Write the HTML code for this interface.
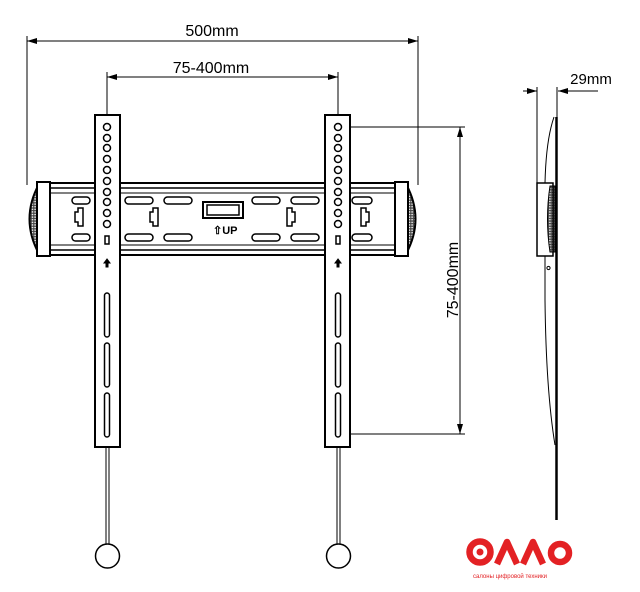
<!DOCTYPE html>
<html><head><meta charset="utf-8"><style>html,body{margin:0;padding:0;background:#fff}svg{display:block}</style></head>
<body>
<svg width="640" height="592" viewBox="0 0 640 592" xmlns="http://www.w3.org/2000/svg" font-family="Liberation Sans, sans-serif">
<defs>
<marker id="a" viewBox="0 0 10 6" refX="10" refY="3" markerWidth="10" markerHeight="6" orient="auto-start-reverse" markerUnits="userSpaceOnUse"><path d="M0,0 L10,3 L0,6z" fill="#000"/></marker>
<pattern id="dots" width="2.6" height="2.6" patternUnits="userSpaceOnUse"><rect width="2.6" height="2.6" fill="#444"/><circle cx="1.3" cy="1.3" r="0.8" fill="#fff"/></pattern>
</defs>
<g stroke="#000" fill="none" stroke-width="1">
<line x1="27" y1="41" x2="418" y2="41" marker-start="url(#a)" marker-end="url(#a)"/>
<line x1="27" y1="36" x2="27" y2="185"/><line x1="418" y1="36" x2="418" y2="185"/>
<line x1="107" y1="77" x2="338" y2="77" marker-start="url(#a)" marker-end="url(#a)"/>
<line x1="107" y1="72" x2="107" y2="122"/><line x1="338" y1="72" x2="338" y2="122"/>
<line x1="460" y1="127" x2="460" y2="434" marker-start="url(#a)" marker-end="url(#a)"/>
<line x1="341" y1="127" x2="465" y2="127"/><line x1="341" y1="434" x2="465" y2="434"/>
<rect x="45" y="183" width="355" height="72" fill="#fff" stroke-width="2"/>
<line x1="45" y1="188" x2="400" y2="188" stroke-width="1.5"/>
<line x1="45" y1="193" x2="400" y2="193"/>
<line x1="45" y1="245" x2="400" y2="245"/>
<line x1="45" y1="250" x2="400" y2="250" stroke-width="1.5"/>
<g stroke-width="1.5">
<rect x="72" y="197" width="18" height="7" rx="3.5"/><rect x="125" y="197" width="28" height="7" rx="3.5"/><rect x="164" y="197" width="28" height="7" rx="3.5"/>
<rect x="252" y="197" width="28" height="7" rx="3.5"/><rect x="291" y="197" width="28" height="7" rx="3.5"/><rect x="352" y="197" width="20" height="7" rx="3.5"/>
<rect x="72" y="234" width="18" height="7" rx="3.5"/><rect x="125" y="234" width="28" height="7" rx="3.5"/><rect x="164" y="234" width="28" height="7" rx="3.5"/>
<rect x="252" y="234" width="28" height="7" rx="3.5"/><rect x="291" y="234" width="28" height="7" rx="3.5"/><rect x="352" y="234" width="20" height="7" rx="3.5"/>
<path d="M78,208 h5 v18 h-5 v-4 h-3 v-10 h3z"/><path d="M153,208 h5 v18 h-5 v-4 h-3 v-10 h3z"/>
<path d="M292,208 h-5 v18 h5 v-4 h3 v-10 h-3z"/><path d="M366,208 h-5 v18 h5 v-4 h3 v-10 h-3z"/>
</g>
<rect x="203" y="202" width="40" height="16" stroke-width="2"/>
<rect x="207" y="205" width="32" height="10" stroke-width="1.5"/>
<path d="M39,184 Q20,219 39,254 Z" fill="url(#dots)" stroke-width="2"/>
<rect x="37" y="182" width="13" height="74" fill="#fff" stroke-width="2"/>
<path d="M406,184 Q425,219 406,254 Z" fill="url(#dots)" stroke-width="2"/>
<rect x="395" y="182" width="13" height="74" fill="#fff" stroke-width="2"/>
<rect x="95" y="115" width="25" height="332" fill="#fff" stroke-width="2"/>
<rect x="325" y="115" width="25" height="332" fill="#fff" stroke-width="2"/>
<g stroke-width="1.5">
<circle cx="107" cy="127" r="3.5"/><circle cx="107" cy="138" r="3.5"/><circle cx="107" cy="148" r="3.5"/><circle cx="107" cy="159" r="3.5"/><circle cx="107" cy="170" r="3.5"/><circle cx="107" cy="181" r="3.5"/><circle cx="107" cy="192" r="3.5"/><circle cx="107" cy="202" r="3.5"/><circle cx="107" cy="213" r="3.5"/><circle cx="107" cy="224" r="3.5"/>
<circle cx="338" cy="127" r="3.5"/><circle cx="338" cy="138" r="3.5"/><circle cx="338" cy="148" r="3.5"/><circle cx="338" cy="159" r="3.5"/><circle cx="338" cy="170" r="3.5"/><circle cx="338" cy="181" r="3.5"/><circle cx="338" cy="192" r="3.5"/><circle cx="338" cy="202" r="3.5"/><circle cx="338" cy="213" r="3.5"/><circle cx="338" cy="224" r="3.5"/>
<rect x="105" y="236" width="4" height="8"/><rect x="336" y="236" width="4" height="8"/>
<rect x="104.5" y="293" width="5" height="44" rx="2.5"/><rect x="104.5" y="343" width="5" height="44" rx="2.5"/><rect x="104.5" y="393" width="5" height="44" rx="2.5"/>
<rect x="335.5" y="293" width="5" height="44" rx="2.5"/><rect x="335.5" y="343" width="5" height="44" rx="2.5"/><rect x="335.5" y="393" width="5" height="44" rx="2.5"/>
</g>
<path d="M107,259 l-3,4 h2 v4 h2 v-4 h2z" fill="#000"/><path d="M338,259 l-3,4 h2 v4 h2 v-4 h2z" fill="#000"/>
<line x1="106" y1="447" x2="106" y2="545"/><line x1="109" y1="447" x2="109" y2="545"/>
<line x1="337" y1="447" x2="337" y2="545"/><line x1="340" y1="447" x2="340" y2="545"/>
<circle cx="107.5" cy="556" r="12" fill="#fff" stroke-width="1.5"/>
<circle cx="338.5" cy="556" r="12" fill="#fff" stroke-width="1.5"/>
<line x1="523" y1="91" x2="537" y2="91" marker-end="url(#a)"/>
<line x1="598" y1="91" x2="558" y2="91" marker-end="url(#a)"/>
<line x1="537" y1="87" x2="537" y2="256"/>
<line x1="557" y1="87" x2="557" y2="117"/>
<line x1="556.5" y1="117" x2="556.5" y2="520" stroke-width="2.5"/>
<path d="M554,117 Q546,140 545,183"/>
<path d="M550,186 Q545,219 550,252 L555,252 L555,186 Z" fill="url(#dots)"/>
<rect x="537" y="183" width="16" height="73" stroke-width="1.5"/>
<path d="M545,256 L545,300 Q546,390 555,445"/>
<circle cx="548.5" cy="268" r="1.6"/>
</g>
<g fill="#000" font-size="16">
<text x="212" y="36" text-anchor="middle">500mm</text>
<text x="211" y="73" text-anchor="middle">75-400mm</text>
<text x="591" y="84" text-anchor="middle" font-size="15">29mm</text>
<text transform="translate(458,280) rotate(-90)" text-anchor="middle">75-400mm</text>
<text x="213" y="234" font-size="11" font-weight="bold">⇧UP</text>
</g>
<g fill="none" stroke="#e32124" stroke-width="6.5" stroke-linejoin="round">
<circle cx="480" cy="552" r="10.5"/>
<path d="M497,564 L507,542 L517,564"/>
<path d="M523,564 L533,542 L543,564"/>
<circle cx="560" cy="553" r="9"/>
</g>
<circle cx="480" cy="552" r="3.5" fill="#e32124"/>
<text x="510" y="578" font-size="6" fill="#e32124" text-anchor="middle" font-family="Liberation Sans, DejaVu Sans, sans-serif">салоны цифровой техники</text>
</svg>
</body></html>
